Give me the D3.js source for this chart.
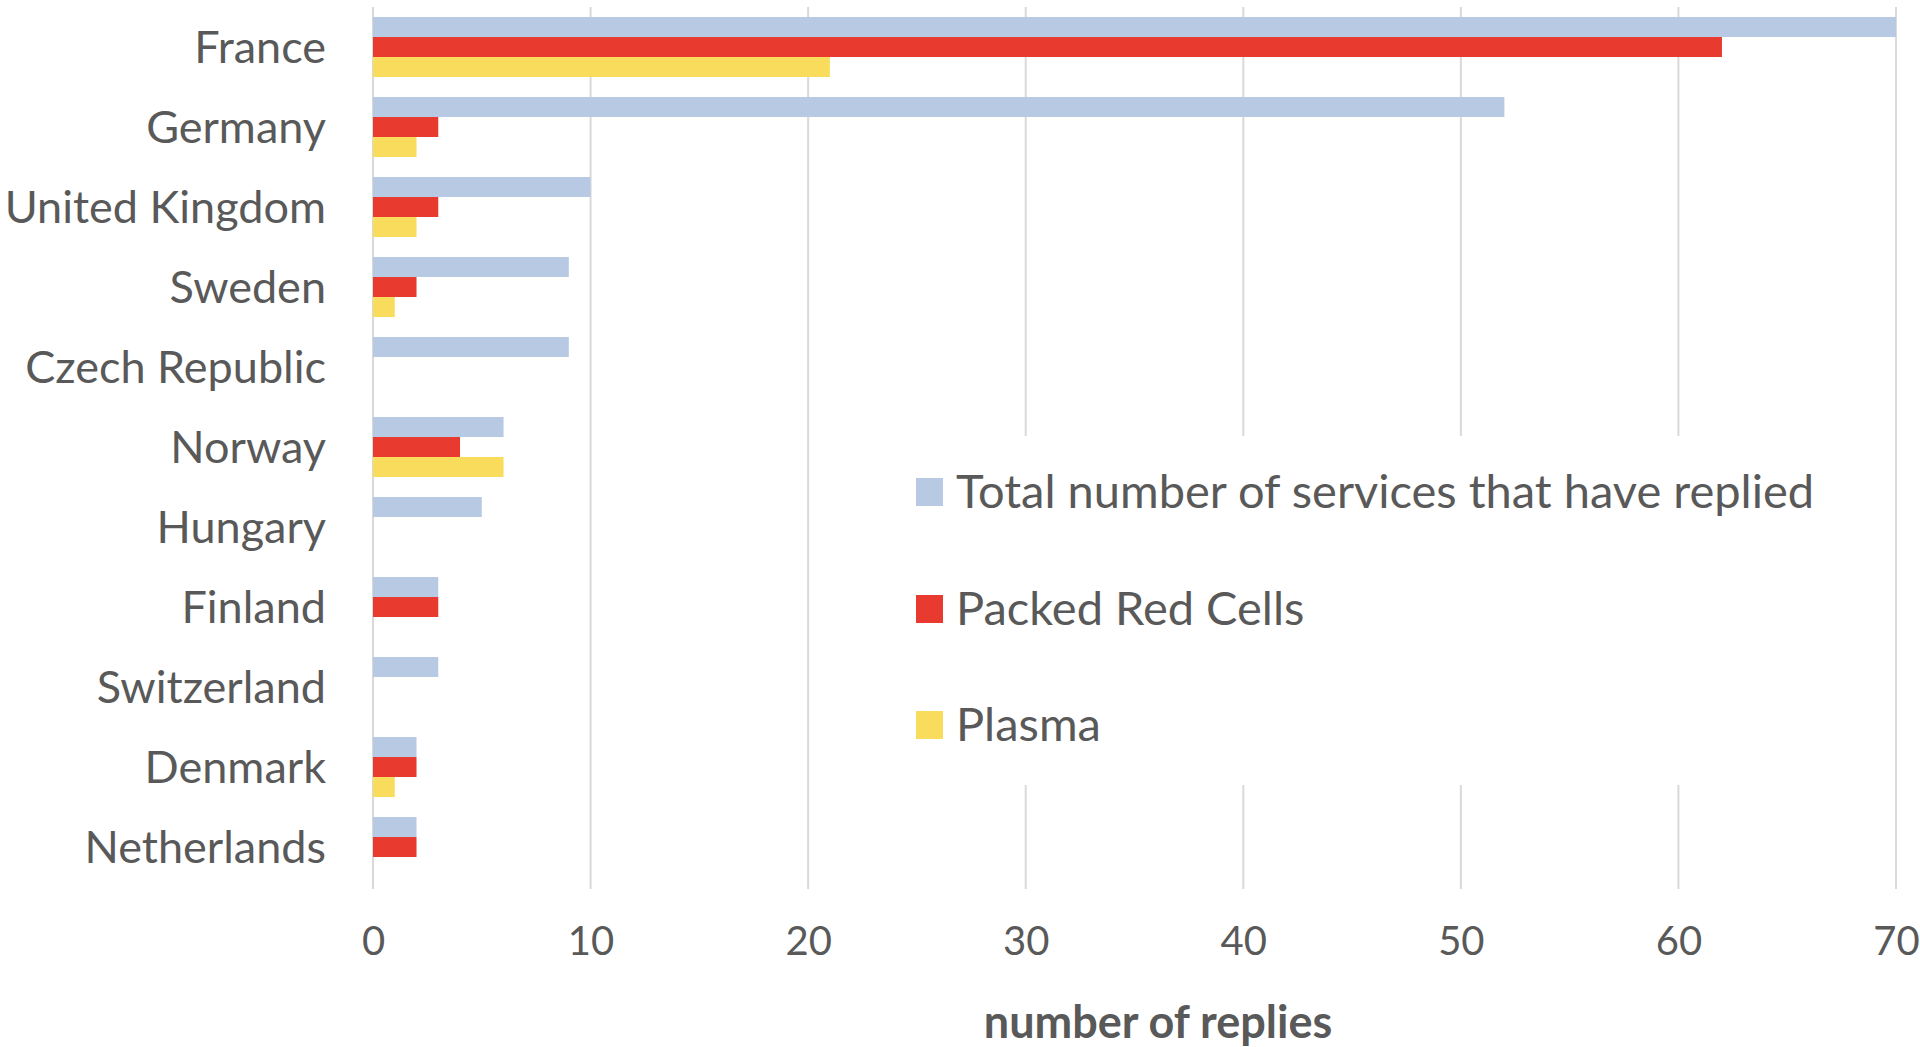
<!DOCTYPE html>
<html>
<head>
<meta charset="utf-8">
<script src="https://cdn.jsdelivr.net/npm/d3@7"></script>
<style>
  html, body { margin: 0; padding: 0; background: #ffffff; }
  svg { display: block; }
  text { font-family: Lato, "Open Sans", sans-serif; fill: #595959; }
</style>
</head>
<body>
<svg id="chart" width="1920" height="1047"></svg>
<script>
// Countries, top to bottom
const countries = ["France", "Germany", "United Kingdom", "Sweden", "Czech Republic",
  "Norway", "Hungary", "Finland", "Switzerland", "Denmark", "Netherlands"];

// Series names and values (number of replies)
const seriesNames = ["Total number of services that have replied", "Packed Red Cells", "Plasma"];
const totalReplies = [70, 52, 10, 9, 9, 6, 5, 3, 3, 2, 2];
const packedRedCells = [62, 3, 3, 2, 0, 4, 0, 3, 0, 2, 2];
const plasma = [21, 2, 2, 1, 0, 6, 0, 0, 0, 1, 0];
const seriesColors = ["#b7c9e3", "#e83a2f", "#f9dc5c"];

const xTicks = [0, 10, 20, 30, 40, 50, 60, 70];
const xTitle = "number of replies";

const seriesValues = [totalReplies, packedRedCells, plasma];
const rows = countries.map((c, i) => ({
  country: c,
  values: seriesValues.map((s, k) => ({ key: seriesNames[k], value: s[i], color: seriesColors[k] }))
}));

const svg = d3.select("#chart");
const plot = { left: 373, right: 1896, top: 7, bottom: 887 };

const x = d3.scaleLinear().domain([0, 70]).range([plot.left, plot.right]);
const y = d3.scaleBand().domain(countries).range([plot.top, plot.bottom])
  .paddingInner(0.25).paddingOuter(0.125);
const ySub = d3.scaleBand().domain(seriesNames).range([0, y.bandwidth()]);

// vertical gridlines
svg.append("g").selectAll("line").data(xTicks).join("line")
  .attr("x1", d => x(d)).attr("x2", d => x(d))
  .attr("y1", plot.top).attr("y2", plot.bottom + 2)
  .attr("stroke", "#d9d9d9").attr("stroke-width", 2);

// bars
const groups = svg.append("g").selectAll("g").data(rows).join("g")
  .attr("transform", d => `translate(0,${y(d.country)})`);
groups.selectAll("rect").data(d => d.values.filter(v => v.value > 0)).join("rect")
  .attr("x", x(0))
  .attr("y", d => ySub(d.key))
  .attr("width", d => x(d.value) - x(0))
  .attr("height", ySub.bandwidth())
  .attr("fill", d => d.color);

// category axis labels
svg.append("g").selectAll("text").data(countries).join("text")
  .attr("x", 326)
  .attr("y", d => y(d) + y.bandwidth() / 2)
  .attr("dy", "0.35em")
  .attr("text-anchor", "end")
  .style("font-size", "45px")
  .text(d => d);

// value axis tick labels
const xAxis = d3.axisBottom(x).tickValues(xTicks).tickSize(0).tickPadding(0);
const gx = svg.append("g").attr("transform", `translate(0,941)`).call(xAxis);
gx.select(".domain").remove();
gx.selectAll("text")
  .attr("y", 0).attr("dy", "0.35em")
  .style("font-size", "40px")
  .style("font-family", "Lato, 'Open Sans', sans-serif")
  .attr("fill", "#595959");

// axis title
svg.append("text")
  .attr("x", 1158).attr("y", 1038)
  .attr("text-anchor", "middle")
  .style("font-size", "45px").style("font-weight", "700")
  .text(xTitle);

// legend with white background over the gridlines
const legend = svg.append("g");
legend.append("rect")
  .attr("x", 895).attr("y", 436).attr("width", 960).attr("height", 349)
  .attr("fill", "#ffffff");
const legendRows = [492, 609, 725];
const items = legend.selectAll("g.item").data(seriesNames).join("g")
  .attr("class", "item")
  .attr("transform", (d, i) => `translate(916,${legendRows[i]})`);
items.append("rect")
  .attr("x", 0).attr("y", -14).attr("width", 27).attr("height", 28)
  .attr("fill", (d, i) => seriesColors[i]);
items.append("text")
  .attr("x", 40).attr("y", 0).attr("dy", "0.35em")
  .style("font-size", "47px")
  .text(d => d);
</script>
</body>
</html>
